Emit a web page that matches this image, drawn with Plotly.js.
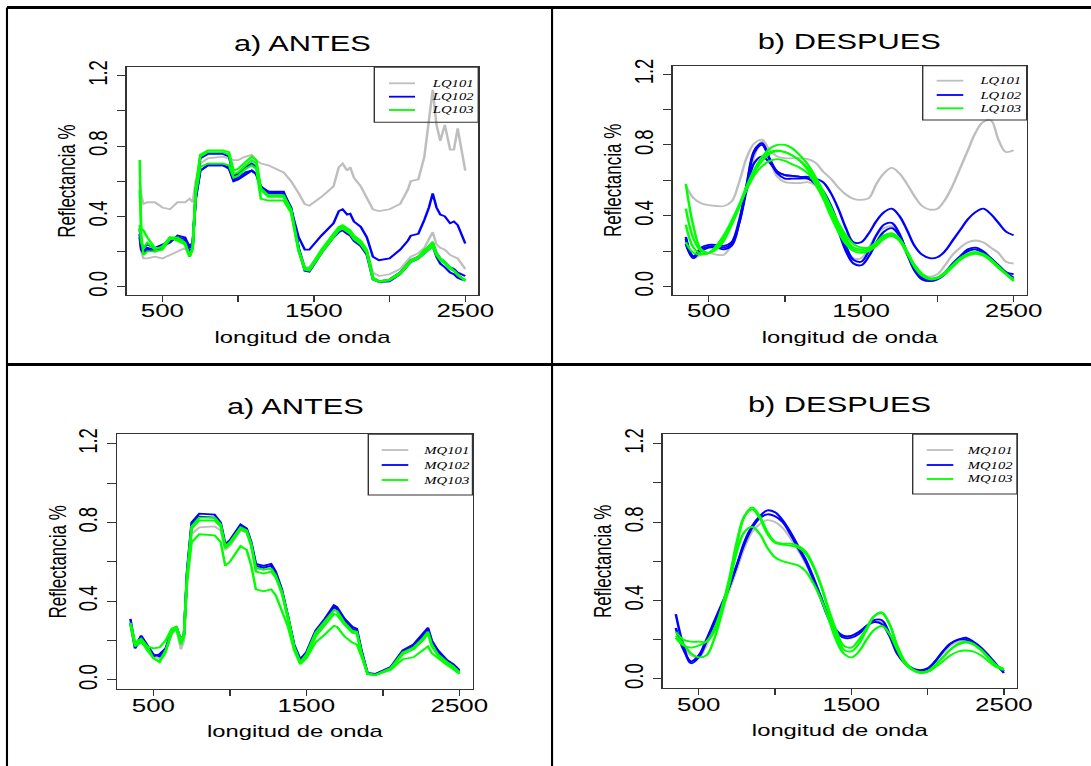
<!DOCTYPE html>
<html><head><meta charset="utf-8">
<script src="https://cdn.plot.ly/plotly-3.0.1.min.js"></script>
<style>
html,body{margin:0;padding:0;overflow:hidden;background:#fff;}
#wrap{width:1091px;height:766px;overflow:hidden;position:relative;}
#chart{width:779px;height:766px;transform:scaleX(1.40051);transform-origin:0 0;}
</style></head><body>
<div id="wrap"><div id="chart"></div></div>
<script>
// ---------- data (wavelength nm, reflectance) ----------
const wlLQAntes = [350,360,375,400,450,500,550,600,650,680,700,720,750,800,900,940,970,1000,1050,1090,1120,1150,1200,1300,1350,1400,1440,1470,1550,1630,1665,1690,1720,1740,1765,1810,1850,1890,1930,2000,2070,2120,2140,2190,2230,2260,2285,2310,2335,2365,2400,2425,2450,2475,2500];
const LQ101_antes_1 = [0.60,0.52,0.47,0.48,0.48,0.45,0.44,0.48,0.48,0.50,0.48,0.60,0.70,0.73,0.74,0.73,0.72,0.72,0.74,0.75,0.72,0.70,0.69,0.65,0.60,0.53,0.47,0.46,0.51,0.57,0.68,0.70,0.66,0.68,0.62,0.57,0.50,0.44,0.43,0.44,0.47,0.55,0.60,0.61,0.74,0.95,1.12,0.92,0.83,0.92,0.78,0.78,0.90,0.78,0.66];
const LQ101_antes_2 = [0.30,0.20,0.16,0.16,0.17,0.16,0.18,0.20,0.22,0.17,0.22,0.50,0.68,0.70,0.70,0.69,0.60,0.61,0.64,0.66,0.64,0.56,0.53,0.52,0.45,0.22,0.11,0.11,0.20,0.30,0.33,0.33,0.31,0.31,0.28,0.25,0.20,0.08,0.06,0.07,0.10,0.15,0.17,0.19,0.22,0.27,0.31,0.24,0.22,0.21,0.18,0.17,0.16,0.13,0.10];
const LQ102_antes_1 = [0.33,0.25,0.22,0.24,0.22,0.24,0.26,0.28,0.27,0.23,0.25,0.50,0.66,0.69,0.69,0.68,0.61,0.62,0.65,0.66,0.64,0.57,0.54,0.54,0.44,0.28,0.21,0.21,0.29,0.36,0.43,0.44,0.41,0.415,0.37,0.34,0.28,0.17,0.15,0.16,0.21,0.26,0.29,0.30,0.38,0.45,0.53,0.45,0.41,0.40,0.36,0.37,0.35,0.30,0.245];
const LQ102_antes_2 = [0.30,0.22,0.20,0.22,0.21,0.23,0.25,0.29,0.28,0.22,0.24,0.50,0.66,0.69,0.69,0.67,0.60,0.61,0.64,0.66,0.64,0.56,0.54,0.53,0.44,0.21,0.09,0.085,0.19,0.28,0.31,0.32,0.30,0.29,0.26,0.23,0.18,0.04,0.025,0.03,0.07,0.12,0.14,0.16,0.19,0.21,0.23,0.17,0.13,0.11,0.08,0.07,0.05,0.04,0.035];
const LQ102_antes_3 = [0.28,0.21,0.19,0.21,0.20,0.22,0.27,0.27,0.26,0.20,0.22,0.55,0.73,0.755,0.755,0.74,0.63,0.64,0.68,0.70,0.68,0.56,0.53,0.53,0.45,0.22,0.10,0.095,0.20,0.29,0.33,0.34,0.32,0.31,0.28,0.25,0.20,0.05,0.03,0.04,0.08,0.13,0.15,0.17,0.20,0.23,0.25,0.19,0.16,0.14,0.11,0.10,0.08,0.07,0.06];
const LQ103_antes_1 = [0.72,0.30,0.18,0.20,0.20,0.21,0.27,0.27,0.24,0.17,0.22,0.56,0.75,0.775,0.775,0.765,0.66,0.67,0.71,0.74,0.72,0.56,0.52,0.52,0.44,0.21,0.10,0.10,0.21,0.30,0.34,0.35,0.33,0.32,0.29,0.26,0.21,0.05,0.03,0.04,0.08,0.13,0.15,0.17,0.21,0.23,0.255,0.19,0.16,0.14,0.11,0.095,0.07,0.05,0.03];
const LQ103_antes_2 = [0.55,0.33,0.32,0.28,0.22,0.22,0.28,0.26,0.24,0.18,0.22,0.52,0.68,0.70,0.70,0.69,0.62,0.63,0.67,0.69,0.67,0.50,0.49,0.49,0.42,0.20,0.095,0.09,0.19,0.28,0.32,0.33,0.31,0.30,0.27,0.24,0.19,0.04,0.025,0.035,0.07,0.12,0.14,0.16,0.19,0.21,0.23,0.18,0.15,0.13,0.10,0.09,0.07,0.05,0.04];
const LQ103_antes_3 = [0.35,0.25,0.22,0.25,0.21,0.23,0.28,0.28,0.25,0.17,0.21,0.55,0.74,0.765,0.765,0.75,0.64,0.65,0.69,0.72,0.70,0.55,0.51,0.51,0.43,0.20,0.11,0.10,0.20,0.29,0.33,0.34,0.32,0.31,0.28,0.25,0.20,0.05,0.03,0.04,0.075,0.125,0.145,0.165,0.20,0.22,0.24,0.18,0.155,0.135,0.105,0.09,0.065,0.05,0.035];

const wlDespues = [350,400,450,500,550,600,650,700,750,800,850,900,950,1000,1050,1100,1150,1200,1250,1300,1350,1400,1450,1500,1550,1600,1650,1700,1750,1800,1850,1900,1950,2000,2050,2100,2150,2200,2250,2300,2350,2400,2450,2500];
const LQ101_desp_1 = [0.57,0.50,0.47,0.46,0.455,0.455,0.48,0.59,0.73,0.81, 0.83,0.77,0.735,0.725,0.725,0.725,0.72,0.70,0.65,0.61, 0.56,0.52,0.495,0.49,0.50,0.58,0.64,0.67,0.64,0.58, 0.51,0.455,0.435,0.44,0.49,0.57,0.67,0.77,0.87,0.93, 0.94,0.83,0.76,0.77];
const LQ101_desp_2 = [0.26,0.16,0.18,0.19,0.18,0.18,0.24,0.38,0.57,0.74, 0.82,0.72,0.62,0.59,0.585,0.585,0.59,0.57,0.50,0.42, 0.31,0.21,0.16,0.16,0.22,0.29,0.33,0.34,0.28,0.18, 0.11,0.07,0.055,0.07,0.12,0.18,0.22,0.25,0.26,0.25, 0.22,0.19,0.14,0.13];
const LQ102_desp_1 = [0.28,0.17,0.22,0.235,0.235,0.23,0.25,0.37,0.58,0.77, 0.81,0.72,0.65,0.63,0.625,0.62,0.62,0.61,0.59,0.53, 0.44,0.33,0.25,0.25,0.30,0.37,0.42,0.44,0.40,0.32, 0.23,0.18,0.16,0.165,0.20,0.26,0.32,0.38,0.42,0.44, 0.41,0.36,0.31,0.29];
const LQ102_desp_2 = [0.24,0.16,0.21,0.225,0.225,0.22,0.24,0.36,0.55,0.70, 0.735,0.70,0.65,0.63,0.625,0.62,0.61,0.58,0.52,0.43, 0.32,0.20,0.13,0.12,0.17,0.25,0.31,0.33,0.29,0.19, 0.10,0.05,0.035,0.045,0.08,0.13,0.17,0.20,0.21,0.19, 0.16,0.12,0.08,0.05];
const LQ102_desp_3 = [0.27,0.17,0.20,0.22,0.22,0.21,0.23,0.36,0.57,0.76, 0.80,0.72,0.64,0.61,0.61,0.61,0.61,0.59,0.54,0.46, 0.35,0.23,0.15,0.14,0.20,0.29,0.35,0.36,0.30,0.19, 0.09,0.04,0.03,0.04,0.07,0.12,0.17,0.21,0.22,0.20, 0.16,0.12,0.08,0.07];
const LQ103_desp_1 = [0.58,0.34,0.21,0.19,0.21,0.26,0.35,0.45,0.56,0.66, 0.73,0.78,0.80,0.80,0.78,0.74,0.69,0.62,0.54,0.45, 0.36,0.29,0.24,0.22,0.22,0.24,0.27,0.29,0.26,0.19, 0.12,0.07,0.045,0.05,0.08,0.12,0.16,0.18,0.19,0.18, 0.15,0.11,0.07,0.04];
const LQ103_desp_2 = [0.44,0.27,0.20,0.19,0.22,0.27,0.35,0.45,0.56,0.65, 0.71,0.75,0.765,0.76,0.74,0.71,0.66,0.59,0.51,0.42, 0.33,0.26,0.21,0.20,0.21,0.24,0.28,0.30,0.27,0.20, 0.12,0.07,0.045,0.05,0.08,0.12,0.16,0.185,0.195,0.185, 0.155,0.115,0.075,0.035];
const LQ103_desp_3 = [0.35,0.22,0.185,0.19,0.23,0.29,0.37,0.46,0.55,0.63, 0.68,0.71,0.72,0.71,0.69,0.67,0.64,0.58,0.50,0.40, 0.31,0.24,0.20,0.19,0.20,0.23,0.27,0.285,0.26,0.19, 0.11,0.06,0.04,0.045,0.07,0.11,0.15,0.175,0.185,0.175, 0.145,0.105,0.07,0.03];
const LQ103_desp_4 = [0.25,0.19,0.18,0.19,0.22,0.28,0.36,0.46,0.57,0.66, 0.73,0.76,0.77,0.76,0.74,0.71,0.67,0.61,0.53,0.44, 0.35,0.27,0.22,0.21,0.22,0.25,0.29,0.30,0.27,0.20, 0.12,0.07,0.045,0.05,0.08,0.12,0.16,0.185,0.19,0.18, 0.15,0.11,0.07,0.04];

const wlMQAntes = [350,380,420,460,500,540,580,620,650,680,700,720,750,800,900,940,970,1000,1070,1110,1140,1170,1220,1270,1300,1340,1380,1420,1460,1500,1560,1620,1680,1700,1750,1800,1830,1860,1900,1950,2050,2130,2200,2260,2295,2320,2360,2420,2460,2500];
const MQ101_antes_1 = [0.29,0.18,0.20,0.16,0.12,0.11,0.15,0.23,0.26,0.155,0.20,0.50,0.74,0.775,0.78,0.76,0.66,0.68,0.76,0.75,0.68,0.57,0.56,0.57,0.53,0.44,0.32,0.17,0.095,0.13,0.23,0.29,0.355,0.35,0.29,0.25,0.245,0.14,0.03,0.025,0.06,0.14,0.165,0.21,0.25,0.19,0.14,0.095,0.075,0.045];
const MQ102_antes_1 = [0.31,0.17,0.225,0.18,0.13,0.12,0.15,0.25,0.27,0.20,0.23,0.55,0.80,0.845,0.84,0.80,0.69,0.71,0.79,0.77,0.70,0.59,0.58,0.59,0.55,0.46,0.33,0.18,0.105,0.14,0.25,0.31,0.38,0.37,0.31,0.27,0.26,0.15,0.035,0.03,0.065,0.15,0.18,0.23,0.265,0.20,0.15,0.10,0.08,0.05];
const MQ102_antes_2 = [0.29,0.16,0.21,0.17,0.12,0.13,0.16,0.25,0.27,0.20,0.23,0.54,0.79,0.83,0.825,0.79,0.68,0.70,0.78,0.76,0.69,0.58,0.57,0.58,0.54,0.45,0.32,0.17,0.10,0.135,0.24,0.30,0.37,0.36,0.30,0.26,0.25,0.145,0.03,0.028,0.06,0.145,0.17,0.22,0.255,0.19,0.14,0.095,0.075,0.045];
const MQ103_antes_1 = [0.29,0.19,0.21,0.17,0.11,0.09,0.14,0.25,0.27,0.19,0.23,0.53,0.78,0.825,0.825,0.79,0.68,0.70,0.775,0.76,0.69,0.57,0.56,0.565,0.53,0.45,0.32,0.17,0.09,0.13,0.24,0.30,0.355,0.35,0.29,0.25,0.245,0.14,0.03,0.025,0.06,0.14,0.165,0.21,0.245,0.18,0.13,0.09,0.07,0.04];
const MQ103_antes_2 = [0.28,0.17,0.19,0.17,0.16,0.165,0.20,0.26,0.27,0.20,0.23,0.52,0.77,0.81,0.81,0.78,0.67,0.69,0.765,0.75,0.68,0.55,0.54,0.55,0.52,0.44,0.31,0.165,0.085,0.12,0.22,0.28,0.335,0.33,0.28,0.24,0.235,0.13,0.03,0.025,0.055,0.13,0.155,0.20,0.235,0.17,0.125,0.085,0.065,0.035];
const MQ103_antes_3 = [0.29,0.18,0.20,0.15,0.11,0.095,0.15,0.24,0.26,0.18,0.22,0.50,0.70,0.74,0.735,0.70,0.58,0.60,0.68,0.66,0.58,0.46,0.45,0.46,0.43,0.35,0.27,0.15,0.08,0.11,0.19,0.23,0.275,0.27,0.22,0.19,0.18,0.12,0.03,0.025,0.05,0.105,0.115,0.15,0.17,0.135,0.11,0.075,0.055,0.03];

const MQ101_desp_1 = [0.25,0.17,0.12,0.11,0.17,0.26,0.35,0.45,0.56,0.67, 0.75,0.79,0.81,0.80,0.77,0.72,0.66,0.59,0.51,0.42, 0.32,0.25,0.22,0.22,0.24,0.27,0.29,0.29,0.22,0.13, 0.08,0.05,0.04,0.05,0.09,0.13,0.17,0.19,0.20,0.18, 0.15,0.11,0.07,0.04];
const MQ102_desp_1 = [0.33,0.17,0.08,0.11,0.19,0.28,0.37,0.47,0.58,0.70, 0.78,0.83,0.86,0.85,0.81,0.75,0.68,0.61,0.52,0.42, 0.32,0.25,0.22,0.22,0.24,0.27,0.30,0.30,0.23,0.14, 0.085,0.055,0.045,0.055,0.09,0.14,0.18,0.20,0.21,0.19, 0.16,0.12,0.075,0.03];
const MQ102_desp_2 = [0.26,0.15,0.09,0.12,0.20,0.29,0.38,0.47,0.58,0.69, 0.77,0.82,0.84,0.83,0.80,0.74,0.67,0.60,0.51,0.41, 0.31,0.24,0.21,0.21,0.23,0.27,0.29,0.28,0.22,0.13, 0.08,0.05,0.04,0.05,0.09,0.14,0.18,0.20,0.20,0.18, 0.15,0.11,0.07,0.04];
const MQ103_desp_1 = [0.24,0.20,0.19,0.19,0.19,0.24,0.35,0.50,0.69,0.83, 0.875,0.83,0.75,0.70,0.69,0.69,0.68,0.65,0.58,0.48, 0.35,0.23,0.15,0.14,0.18,0.25,0.32,0.34,0.28,0.17, 0.09,0.05,0.035,0.04,0.07,0.11,0.15,0.18,0.19,0.18, 0.15,0.11,0.07,0.05];
const MQ103_desp_2 = [0.21,0.17,0.16,0.17,0.19,0.25,0.36,0.51,0.70,0.83, 0.865,0.82,0.74,0.695,0.685,0.68,0.67,0.64,0.575,0.48, 0.36,0.25,0.17,0.16,0.20,0.26,0.32,0.335,0.28,0.17, 0.09,0.05,0.035,0.04,0.07,0.11,0.15,0.175,0.185,0.175, 0.145,0.105,0.07,0.05];
const MQ103_desp_3 = [0.22,0.18,0.13,0.11,0.12,0.20,0.33,0.48,0.65,0.75, 0.775,0.74,0.67,0.62,0.60,0.59,0.58,0.55,0.49,0.41, 0.31,0.20,0.13,0.11,0.14,0.20,0.25,0.27,0.23,0.15, 0.08,0.045,0.03,0.035,0.06,0.09,0.12,0.14,0.145,0.14, 0.12,0.09,0.06,0.045];

const panelTitles = ['a) ANTES','b) DESPUES','a) ANTES','b) DESPUES'];
const groupNames = [['LQ101','LQ102','LQ103'],['LQ101','LQ102','LQ103'],['MQ101','MQ102','MQ103'],['MQ101','MQ102','MQ103']];
const xTickVals = [500,1000,1500,2000,2500];
const xTickText = ['500','','1500','','2500'];
const yTickVals = [0,0.2,0.4,0.6,0.8,1.0,1.2];
const yTickText = ['0.0','','0.4','','0.8','','1.2'];

// ---------- styling ----------
const W = 1091, H = 766;
const COLORS = ['#BEBEBE','#0000FF','#00FF00'];
const panelData = [
  {wl: wlLQAntes, shape:'linear', groups:[[LQ101_antes_1,LQ101_antes_2],[LQ102_antes_1,LQ102_antes_2,LQ102_antes_3],[LQ103_antes_1,LQ103_antes_2,LQ103_antes_3]]},
  {wl: wlDespues, shape:'spline', groups:[[LQ101_desp_1,LQ101_desp_2],[LQ102_desp_1,LQ102_desp_2,LQ102_desp_3],[LQ103_desp_1,LQ103_desp_2,LQ103_desp_3,LQ103_desp_4]]},
  {wl: wlMQAntes, shape:'linear', groups:[[MQ101_antes_1],[MQ102_antes_1,MQ102_antes_2],[MQ103_antes_1,MQ103_antes_2,MQ103_antes_3]]},
  {wl: wlDespues, shape:'spline', groups:[[MQ101_desp_1],[MQ102_desp_1,MQ102_desp_2],[MQ103_desp_1,MQ103_desp_2,MQ103_desp_3]]}
];
const doms = [
  {x:[0.1161,0.4384], y:[0.6149,0.9121]},
  {x:[0.6166,0.9411], y:[0.6149,0.9142]},
  {x:[0.1075,0.4331], y:[0.1001,0.4330]},
  {x:[0.6074,0.9322], y:[0.1014,0.4330]}
];
const titleY = [0.9426, 0.9452, 0.4687, 0.4713];
// legend boxes in page pixels: [left, top, right, bottom, lineStart, lineEnd, textLeft, row1, row2, row3]
const legendBoxes = [
  [374.3, 67.3, 478.3, 122.3, 389, 415, 428, 83.3, 96.7, 110],
  [922.7, 65.7, 1026.7, 120, 936.7, 963.3, 976, 80.7, 95, 108.3],
  [368.3, 434.3, 472.5, 495, 381.7, 408.3, 420, 450, 465, 480],
  [912.7, 434.3, 1017, 494, 926.7, 953.3, 964, 450, 465, 479]
];
const px = v => v / W, py = v => 1 - v / H;

const traces = [];
panelData.forEach((p, i) => {
  const sfx = i === 0 ? '' : String(i + 1);
  p.groups.forEach((g, gi) => {
    g.forEach((vals, k) => {
      traces.push({
        type:'scatter', mode:'lines', x:p.wl, y:vals,
        xaxis:'x'+sfx, yaxis:'y'+sfx,
        name:groupNames[i][gi], showlegend:false,
        line:{color:COLORS[gi], width:1.8, shape:p.shape, smoothing:1},
        hoverinfo:'skip'
      });
    });
  });
});

const FONT = 'Liberation Sans, Arial, sans-serif';
const SERIF = 'Liberation Serif, Times New Roman, serif';
const layout = {
  width:779, height:766, margin:{l:0,r:0,t:0,b:0,pad:0},
  paper_bgcolor:'#fff', plot_bgcolor:'#fff', showlegend:false,
  font:{family:FONT, color:'#000'},
  annotations:[], shapes:[]
};
doms.forEach((d, i) => {
  const sfx = i === 0 ? '' : String(i + 1);
  layout['xaxis'+sfx] = {
    domain:d.x, anchor:'y'+sfx, range:[264,2586], showgrid:false, zeroline:false,
    showline:true, mirror:true, linecolor:'#333', linewidth:1,
    ticks:'outside', ticklen:6, tickcolor:'#333', tickvals:xTickVals, ticktext:xTickText,
    ticklabelstandoff:-7,
    tickfont:{family:FONT, size:18.5, color:'#000'},
    title:{text:'longitud de onda', font:{family:FONT, size:17, color:'#000'}, standoff:10}
  };
  layout['yaxis'+sfx] = {
    domain:d.y, anchor:'x'+sfx, range:[-0.048,1.248], showgrid:false, zeroline:false,
    showline:true, mirror:true, linecolor:'#333', linewidth:1,
    ticks:'outside', ticklen:6, tickcolor:'#333', tickvals:yTickVals, ticktext:yTickText,
    tickangle:-90, tickfont:{family:FONT, size:18.5, color:'#000'},
    title:{text:'Reflectancia %', font:{family:FONT, size:17, color:'#000'}, standoff:0}
  };
  layout.annotations.push({
    text:panelTitles[i], xref:'paper', yref:'paper', x:(d.x[0]+d.x[1])/2, y:titleY[i],
    xanchor:'center', yanchor:'middle', showarrow:false,
    font:{family:FONT, size:22, color:'#000'}
  });
  // legend (drawn like the R legend: thin frame, short line keys, italic serif labels)
  const b = legendBoxes[i];
  layout.shapes.push({type:'rect', xref:'paper', yref:'paper', x0:px(b[0]), x1:px(b[2]), y0:py(b[3]), y1:py(b[1]),
    line:{color:'#333', width:1}, fillcolor:'rgba(0,0,0,0)'});
  [b[7], b[8], b[9]].forEach((ry, gi) => {
    layout.shapes.push({type:'line', xref:'paper', yref:'paper', x0:px(b[4]), x1:px(b[5]), y0:py(ry), y1:py(ry),
      line:{color:COLORS[gi], width:1.8}});
    layout.annotations.push({
      text:groupNames[i][gi], xref:'paper', yref:'paper', x:px(b[6]), y:py(ry),
      xanchor:'left', yanchor:'middle', showarrow:false,
      font:{family:SERIF, size:10.5, style:'italic', color:'#000'}
    });
  });
});
// table frame lines around the four panels
const frame = [
  {x0:0.0064, x1:1, y0:0.9902, y1:0.9902, w:3},
  {x0:0.0064, x1:1, y0:0.5241, y1:0.5241, w:3},
  {x0:0.0064, x1:0.0064, y0:0, y1:0.9902, w:1.5},
  {x0:0.506, x1:0.506, y0:0, y1:0.9902, w:1.5}
];
frame.forEach(f => layout.shapes.push({type:'line', xref:'paper', yref:'paper', x0:f.x0, x1:f.x1, y0:f.y0, y1:f.y1, line:{color:'#000', width:f.w}}));

Plotly.newPlot('chart', traces, layout, {staticPlot:true, displayModeBar:false});
</script>
</body></html>
